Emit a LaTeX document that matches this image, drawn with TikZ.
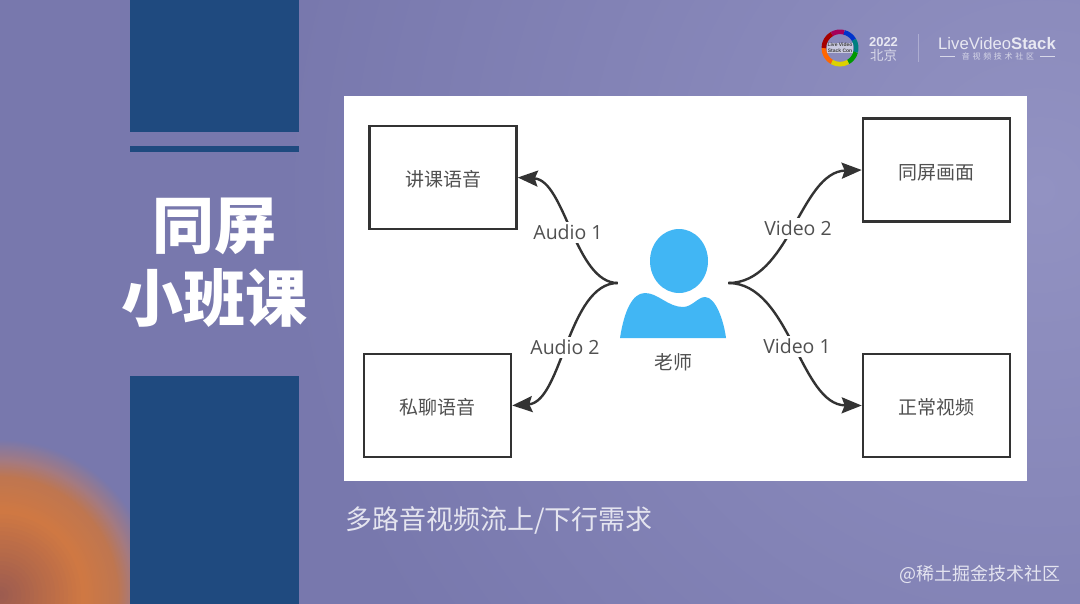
\documentclass[tikz,border=0pt]{standalone}
\usepackage{fontspec}
\setmainfont{Liberation Sans}
\newfontfamily\cjk{Noto Sans CJK SC}
\newfontfamily\cjkwide[LetterSpace=34]{Noto Sans CJK SC}
\newfontfamily\lab{Open Sans}
\usetikzlibrary{arrows.meta}
\definecolor{barblue}{HTML}{1F4A7F}
\definecolor{inkgrey}{HTML}{333333}
\definecolor{txtgrey}{HTML}{505050}
\definecolor{iconblue}{HTML}{41B6F4}
\definecolor{bgleft}{HTML}{7878AD}
\definecolor{bgright}{HTML}{9292C2}
\definecolor{capt}{HTML}{E4E4EF}
\definecolor{logotxt}{HTML}{E8E8F2}
\definecolor{glowa}{HTML}{9A5A50}
\definecolor{glowb}{HTML}{CF7843}
\definecolor{glowc}{HTML}{BF7650}
\definecolor{glowd}{HTML}{A57A80}
\tikzset{
  x=1pt,y=-1pt,
  blockbar/.style={fill=barblue,draw=none},
  flowbox/.style={draw=inkgrey,line width=2.6pt,fill=white,minimum width=147pt,minimum height=103pt,inner sep=0pt,font=\cjk\fontsize{19}{21}\selectfont,text=txtgrey,text height=20.5pt,text depth=2pt},
  flowline/.style={draw=inkgrey,line width=2.4pt,-{Stealth[length=20pt,width=16pt,inset=3pt]}},
  flowlabel/.style={font=\lab\fontsize{19.5}{21}\selectfont,text=txtgrey,fill=white,inner xsep=1pt,inner ysep=3pt},
  titletext/.style={font=\cjk\bfseries\fontsize{62}{68}\selectfont,text=white},
}
\newcommand{\ringpart}[3]{\draw[line width=4.6pt,draw=#1] (840,48) ++(#2:16.2) arc[start angle=#2,end angle=#3,radius=16.2];}
% concentric steps: from colour #1 at radius #3 to colour #2 at radius #4
\newcommand{\glowseg}[4]{%
  \foreach \k in {1,...,20}{%
    \pgfmathsetmacro{\rad}{#3+(#4-#3)*\k/20}%
    \pgfmathsetmacro{\pct}{100*\k/20}%
    \fill[#2!\pct!#1] (0,595) circle (\rad);
  }}
\begin{document}
\begin{tikzpicture}
\useasboundingbox (0,0) rectangle (1080,603);
\begin{scope}
\clip (-3,-3) rectangle (1083,606);
\fill[bgleft] (-3,-3) rectangle (1083,606);
\shade[inner color=bgright,outer color=bgleft] (1040,190) circle (760);
\glowseg{bgleft}{glowd}{156}{134}
\glowseg{glowd}{glowc}{134}{118}
\glowseg{glowc}{glowb}{118}{85}
\glowseg{glowb}{glowa}{85}{0}
\end{scope}
% bars
\fill[blockbar] (130,-3) rectangle (299,132);
\fill[blockbar] (130,146) rectangle (299,152);
\fill[blockbar] (130,376) rectangle (299,606);
% title
\node[titletext] (t1) at (214,226) {同屏};
\node[titletext] (t2) at (214,298) {小班课};
% panel
\fill[white] (344,96) rectangle (1027,481);
% boxes
\node[flowbox] (b1) at (443,177.5) {讲课语音};
\node[flowbox] (b2) at (936.5,170) {同屏画面};
\node[flowbox] (b3) at (437.5,405.5) {私聊语音};
\node[flowbox] (b4) at (936.5,405.5) {正常视频};
% teacher icon
\fill[iconblue] (679,261) ellipse [x radius=29,y radius=32];
\fill[iconblue] (620,338) .. controls (624,312) and (632,293) .. (645,293)
  .. controls (658,293) and (668,307) .. (683,307)
  .. controls (692,307) and (698,297) .. (705,297)
  .. controls (716,297) and (724,322) .. (726,338) -- cycle;
\node[inner sep=0pt,minimum size=0pt] (tl) at (618,283) {};
\node[inner sep=0pt,minimum size=0pt] (tr) at (728,283) {};
\node[font=\cjk\fontsize{19}{21}\selectfont,text=txtgrey] (tname) at (673,362) {老师};
% connectors
\draw[flowline] (tl) .. controls (575,283) and (565,180) .. (b1.east);
\draw[flowline] (tl) .. controls (568,283) and (562,402) .. (b3.east);
\draw[flowline] (tr) .. controls (790,283) and (800,172) .. (b2.west);
\draw[flowline] (tr) .. controls (790,283) and (800,405) .. (b4.west);
\node[flowlabel] (l1) at (568,232) {Audio 1};
\node[flowlabel] (l2) at (565,347) {Audio 2};
\node[flowlabel] (l3) at (798,228) {Video 2};
\node[flowlabel] (l4) at (797,346) {Video 1};
% caption
\node[font=\cjk\fontsize{27}{30}\selectfont,text=capt,anchor=west,inner sep=0pt] (cap) at (345,520) {多路音视频流上/下行需求};
\node[font=\cjk\fontsize{18}{20}\selectfont,text=white!75!bgright,anchor=east,inner sep=0pt] (wm) at (1061,574) {@稀土掘金技术社区};
% logo
\ringpart{orange!80!red}{120}{180}
\ringpart{red!65!black}{180}{240}
\ringpart{violet!70!red}{240}{285}
\ringpart{blue!60!teal}{285}{330}
\ringpart{teal}{330}{375}
\ringpart{green!60!black}{15}{60}
\ringpart{yellow!70!olive}{60}{120}
\node[font=\bfseries\fontsize{5}{5.6}\selectfont,align=center,text=black!75,fill=white,fill opacity=0.55,text opacity=1,inner sep=0.5pt] (lc) at (840,48) {Live Video\\Stack Con};
\node[font=\bfseries\fontsize{13}{14}\selectfont,text=logotxt] (yr) at (883.5,42) {2022};
\node[font=\cjk\fontsize{13.5}{14}\selectfont,text=logotxt!80!bgright] (bj) at (883.5,55) {北京};
\draw[white!25!bgright,line width=0.5pt] (918,34) -- (918,62);
\node[font=\fontsize{16.7}{18}\selectfont,text=logotxt,inner sep=0pt] (lvs) at (997,44) {LiveVideo\textbf{Stack}};
\node[font=\cjkwide\fontsize{8}{9}\selectfont,text=logotxt!80!bgright,inner sep=0pt] (lvs2) at (998,56) {音视频技术社区};
\coordinate (d1a) at (940,56); \coordinate (d1b) at (955,56);
\coordinate (d2a) at (1040,56); \coordinate (d2b) at (1055,56);
\draw[logotxt!80!bgright,line width=0.6pt] (d1a) -- (d1b) (d2a) -- (d2b);
\end{tikzpicture}
\end{document}
